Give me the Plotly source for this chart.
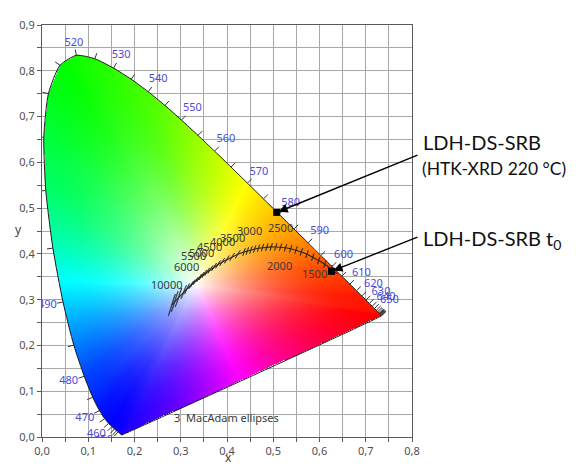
import numpy as np
import plotly.graph_objects as go
import zlib, struct, base64

# ---------------- data ----------------
# CIE 1931 spectral locus (2 deg), wavelength in nm
wl = [380, 385, 390, 395, 400, 405, 410, 415, 420, 425, 430, 435, 440, 445, 450, 455,
      460, 465, 470, 475, 480, 485, 490, 495, 500, 505, 510, 515, 520, 525, 530, 535,
      540, 545, 550, 555, 560, 565, 570, 575, 580, 585, 590, 595, 600, 605, 610, 615,
      620, 625, 630, 635, 640, 645, 650, 655, 660, 665, 670, 680, 690, 700]
loc_x = [0.1741, 0.1740, 0.1738, 0.1736, 0.1733, 0.1730, 0.1726, 0.1721, 0.1714, 0.1703,
         0.1689, 0.1669, 0.1644, 0.1611, 0.1566, 0.1510, 0.1440, 0.1355, 0.1241, 0.1096,
         0.0913, 0.0687, 0.0454, 0.0235, 0.0082, 0.0039, 0.0139, 0.0389, 0.0743, 0.1142,
         0.1547, 0.1929, 0.2296, 0.2658, 0.3016, 0.3373, 0.3731, 0.4087, 0.4441, 0.4788,
         0.5125, 0.5448, 0.5752, 0.6029, 0.6270, 0.6482, 0.6658, 0.6801, 0.6915, 0.7006,
         0.7079, 0.7140, 0.7190, 0.7230, 0.7260, 0.7283, 0.7300, 0.7311, 0.7320, 0.7334,
         0.7344, 0.7347]
loc_y = [0.0050, 0.0050, 0.0049, 0.0049, 0.0048, 0.0048, 0.0048, 0.0048, 0.0051, 0.0058,
         0.0069, 0.0086, 0.0109, 0.0138, 0.0177, 0.0227, 0.0297, 0.0399, 0.0578, 0.0868,
         0.1327, 0.2007, 0.2950, 0.4127, 0.5384, 0.6548, 0.7502, 0.8120, 0.8338, 0.8262,
         0.8059, 0.7816, 0.7543, 0.7243, 0.6923, 0.6589, 0.6245, 0.5896, 0.5547, 0.5202,
         0.4866, 0.4544, 0.4242, 0.3965, 0.3725, 0.3514, 0.3340, 0.3197, 0.3083, 0.2993,
         0.2920, 0.2859, 0.2809, 0.2770, 0.2740, 0.2717, 0.2700, 0.2689, 0.2680, 0.2666,
         0.2656, 0.2653]
tick_wl_min, tick_wl_max = 440, 700
label_wl = [440, 450, 460, 470, 480, 490, 500, 510, 520, 530, 540, 550, 560, 570, 580,
            590, 600, 610, 620, 630, 640, 650]

# Planckian locus (K, x, y)
planck_T = [1100, 1200, 1300, 1400, 1500, 1600, 1700, 1800, 1900, 2000, 2100, 2200, 2300,
            2400, 2500, 2600, 2700, 2800, 2900, 3000, 3200, 3400, 3500, 3600, 3800, 4000,
            4200, 4400, 4500, 4600, 4800, 5000, 5200, 5500, 5800, 6000, 6500, 7000, 7500,
            8000, 8500, 9000, 9500, 10000]
planck_x = [0.6386, 0.6249, 0.6115, 0.5984, 0.5856, 0.5731, 0.5610, 0.5493, 0.5378, 0.5266,
            0.5159, 0.5056, 0.4957, 0.4862, 0.4769, 0.4683, 0.4599, 0.4519, 0.4442, 0.4369,
            0.4234, 0.4112, 0.4053, 0.3998, 0.3897, 0.3805, 0.3721, 0.3644, 0.3608, 0.3574,
            0.3510, 0.3451, 0.3397, 0.3325, 0.3260, 0.3221, 0.3135, 0.3064, 0.3004, 0.2952,
            0.2908, 0.2869, 0.2836, 0.2807]
planck_y = [0.3564, 0.3676, 0.3773, 0.3857, 0.3932, 0.3993, 0.4043, 0.4082, 0.4112, 0.4133,
            0.4146, 0.4152, 0.4153, 0.4147, 0.4137, 0.4123, 0.4106, 0.4086, 0.4064, 0.4041,
            0.3990, 0.3935, 0.3907, 0.3879, 0.3823, 0.3768, 0.3714, 0.3661, 0.3636, 0.3611,
            0.3562, 0.3516, 0.3472, 0.3411, 0.3353, 0.3318, 0.3237, 0.3166, 0.3103, 0.3048,
            0.2999, 0.2956, 0.2918, 0.2883]
# 3-step MacAdam ellipses: centre temperature, semi-axes, tilt (deg)
ell_T = [1200, 1300, 1400, 1500, 1600, 1700, 1800, 1900, 2000, 2100, 2200, 2300, 2400,
         2500, 2600, 2700, 2800, 2900, 3000, 3200, 3400, 3600, 3800, 4000, 4200, 4400,
         4600, 4800, 5000, 5200, 5500, 5800, 6000, 6500, 7000, 8000, 9000, 10000]
ell_a = [0.0085] * 19 + [0.0100] * 14 + [0.013, 0.016, 0.022, 0.024, 0.025]
ell_b = [0.0006] * 19 + [0.0007] * 14 + [0.0008] * 5
ell_theta = [72] * 19 + [58] * 14 + [64, 68, 71, 72, 72]

cct_labels = [1500, 2000, 2500, 3000, 3500, 4000, 4500, 5000, 5500, 6000, 10000]
cct_shift_x = [2, -6, 18, 5, 3, 5, 1, 0, -2, -4, -5]
cct_shift_y = [-16, -18, 20, 22, 21, 23, 24, 24, 25, 19, 21]

# measured samples
sample_names = ["LDH-DS-SRB (HTK-XRD 220 °C)", "LDH-DS-SRB t0"]
sample_x = [0.5075, 0.626]
sample_y = [0.4906, 0.362]

x_ticks = [0.0, 0.1, 0.2, 0.3, 0.4, 0.5, 0.6, 0.7, 0.8]
y_ticks = [0.0, 0.1, 0.2, 0.3, 0.4, 0.5, 0.6, 0.7, 0.8, 0.9]
x_ticktext = ["0,0", "0,1", "0,2", "0,3", "0,4", "0,5", "0,6", "0,7", "0,8"]
y_ticktext = ["0,0", "0,1", "0,2", "0,3", "0,4", "0,5", "0,6", "0,7", "0,8", "0,9"]

# colour rendering of the diagram: hue anchors along the locus
hue_wl = [380, 450, 470, 480, 485, 490, 495, 500, 510, 520, 540, 550, 560, 570, 580, 590,
          600, 620, 700]
hue_deg = [246, 242, 236, 224, 210, 190, 165, 145, 126, 116, 102, 90, 76, 60, 45, 31,
           18, 6, 0]

# ---------------- colour background (chromaticity fill) ----------------
XR, YR = 0.8, 0.9
W, H = 370, 420
gx = (np.arange(W) + 0.5) / W * XR
gy = (np.arange(H) + 0.5) / H * YR
GX, GY = np.meshgrid(gx, gy)  # row 0 = lowest y
WX, WY = 1 / 3, 1 / 3

vx = np.array(loc_x); vy = np.array(loc_y)
inside = np.zeros(GX.shape, bool)
n = len(vx); j = n - 1
for i in range(n):
    xi, yi, xj, yj = vx[i], vy[i], vx[j], vy[j]
    cond = ((yi > GY) != (yj > GY)) & (GX < (xj - xi) * (GY - yi) / (yj - yi + 1e-12) + xi)
    inside ^= cond
    j = i

# polar coordinates around the white point
DX = GX - WX; DY = GY - WY
rad = np.hypot(DX, DY)
phi = np.degrees(np.arctan2(DY, DX))
cphi = np.cos(np.radians(phi)); sphi = np.sin(np.radians(phi))
rb = np.full(GX.shape, np.inf)
j = n - 1
for i in range(n):
    px_, py_ = vx[j], vy[j]
    ex_, ey_ = vx[i] - px_, vy[i] - py_
    den = cphi * ey_ - sphi * ex_
    wx_, wy_ = px_ - WX, py_ - WY
    with np.errstate(divide="ignore", invalid="ignore"):
        tt = (wx_ * ey_ - wy_ * ex_) / den
        uu = (wx_ * sphi - wy_ * cphi) / den
    ok = (uu >= -1e-9) & (uu <= 1 + 1e-9) & (tt > 0)
    rb = np.where(ok, np.minimum(rb, tt), rb)
    j = i
r = np.clip(rad / rb, 0, 1)

v_ang = np.degrees(np.arctan2(vy - WY, vx - WX))
a0 = v_ang[-1]
v_ang = (v_ang - a0) % 360
v_hue = np.interp(wl, hue_wl, hue_deg)
order = np.argsort(v_ang)
ang_tab = np.concatenate([[0.0], v_ang[order][1:], [360.0]])
hue_tab = np.concatenate([[0.0], v_hue[order][1:], [360.0]])
hue = np.interp((phi - a0) % 360, ang_tab, hue_tab) % 360
sat = 1 - (1 - r) ** 2
val = np.ones_like(sat)
h6 = hue / 60.0
hi = np.floor(h6).astype(int) % 6
f = h6 - np.floor(h6)
p = val * (1 - sat); q = val * (1 - f * sat); tq = val * (1 - (1 - f) * sat)
rr = np.choose(hi, [val, q, p, p, tq, val])
gg = np.choose(hi, [tq, val, val, q, p, p])
bb = np.choose(hi, [p, p, tq, val, val, q])
img = np.zeros((H, W, 4), np.uint8)
img[..., 0] = np.clip(rr * 255, 0, 255).astype(np.uint8)
img[..., 1] = np.clip(gg * 255, 0, 255).astype(np.uint8)
img[..., 2] = np.clip(bb * 255, 0, 255).astype(np.uint8)
img[..., 3] = np.where(inside, 255, 0).astype(np.uint8)


def to_png(arr):
    h, w, _ = arr.shape
    raw = b"".join(b"\x00" + arr[k].tobytes() for k in range(h))

    def chunk(t, d):
        c = struct.pack(">I", len(d)) + t + d
        return c + struct.pack(">I", zlib.crc32(t + d) & 0xffffffff)
    return (b"\x89PNG\r\n\x1a\n" + chunk(b"IHDR", struct.pack(">IIBBBBB", w, h, 8, 6, 0, 0, 0))
            + chunk(b"IDAT", zlib.compress(raw, 9)) + chunk(b"IEND", b""))


src = "data:image/png;base64," + base64.b64encode(to_png(img)).decode()

fig = go.Figure()
fig.add_trace(go.Image(source=src, x0=XR / W / 2, dx=XR / W, y0=YR / H / 2, dy=YR / H,
                       hoverinfo="skip"))

# ---------------- spectral locus outline ----------------
fig.add_trace(go.Scatter(x=loc_x + [loc_x[0]], y=loc_y + [loc_y[0]], mode="lines",
                         line=dict(color="#1a1a1a", width=1, shape="spline", smoothing=0.6),
                         hoverinfo="skip"))

# tick marks & wavelength labels (offset along outward normal in pixels)
SX, SY = 370 / XR, 420 / YR
pxl = np.array(loc_x) * SX; pyl = np.array(loc_y) * SY
tx_, ty_, lx, ly, lt = [], [], [], [], []
for k, w_ in enumerate(wl):
    if w_ < tick_wl_min or w_ > tick_wl_max:
        continue
    a_ = max(k - 1, 0); b_ = min(k + 1, len(wl) - 1)
    dxp = pxl[b_] - pxl[a_]; dyp = pyl[b_] - pyl[a_]
    L = np.hypot(dxp, dyp)
    nx, ny = -dyp / L, dxp / L
    tlen = 6
    tx_ += [loc_x[k], loc_x[k] + nx * tlen / SX, None]
    ty_ += [loc_y[k], loc_y[k] + ny * tlen / SY, None]
    if w_ in label_wl:
        D = 5 + abs(nx) * 10 + abs(ny) * 6
        lx.append(loc_x[k] + nx * D / SX); ly.append(loc_y[k] + ny * D / SY); lt.append(str(w_))
fig.add_trace(go.Scatter(x=tx_, y=ty_, mode="lines", line=dict(color="#333333", width=1),
                         hoverinfo="skip"))
fig.add_trace(go.Scatter(x=lx, y=ly, mode="text", text=lt, textposition="middle center",
                         textfont=dict(family="Noto Sans", size=11, color="#4b4bd8"),
                         hoverinfo="skip"))

# ---------------- Planckian locus & MacAdam ellipses ----------------
fig.add_trace(go.Scatter(x=planck_x, y=planck_y, mode="lines",
                         line=dict(color="#262626", width=1.1), hoverinfo="skip"))
ex, ey = [], []
t = np.linspace(0, 2 * np.pi, 25)
for T, a_, b_, thd in zip(ell_T, ell_a, ell_b, ell_theta):
    k = planck_T.index(T)
    th = np.radians(thd)
    cx, cy = planck_x[k], planck_y[k]
    ex += list(cx + a_ * np.cos(th) * np.cos(t) - b_ * np.sin(th) * np.sin(t)) + [None]
    ey += list(cy + a_ * np.sin(th) * np.cos(t) + b_ * np.cos(th) * np.sin(t)) + [None]
fig.add_trace(go.Scatter(x=ex, y=ey, mode="lines", line=dict(color="#262626", width=0.7),
                         hoverinfo="skip"))

annotations = []
for T, sx_, sy_ in zip(cct_labels, cct_shift_x, cct_shift_y):
    k = planck_T.index(T)
    annotations.append(dict(x=planck_x[k], y=planck_y[k], xref="x", yref="y", text=str(T),
                            showarrow=False, xshift=sx_, yshift=sy_,
                            font=dict(family="Noto Sans", size=11, color="#3a3a3a")))

# ---------------- samples ----------------
fig.add_trace(go.Scatter(x=sample_x, y=sample_y, mode="markers",
                         marker=dict(symbol="square", size=7, color="black"),
                         hoverinfo="skip"))
tails = [(0.815, 0.617), (0.815, 0.438)]
for (axv, ayv), sxv, syv in zip(tails, sample_x, sample_y):
    annotations.append(dict(x=sxv, y=syv, xref="x", yref="y", ax=axv, ay=ayv,
                            axref="x", ayref="y", showarrow=True, arrowhead=2,
                            arrowsize=1.3, arrowwidth=1.4, arrowcolor="black", text="",
                            standoff=2))

annotations += [
    dict(x=422, y=136, text="LDH-DS-SRB", font=dict(family="Lato", size=20, color="#111111")),
    dict(x=421, y=163, text="(HTK-XRD 220 °C)", font=dict(family="Lato", size=17.5, color="#111111")),
    dict(x=422, y=236, text="LDH-DS-SRB t<sub>0</sub>",
         font=dict(family="Lato", size=20, color="#111111")),
]
for a in annotations[-3:]:
    a["x"] = (a["x"] - 42) / 370
    a["y"] = (437 - a["y"]) / 420
    a.update(xref="paper", yref="paper", xanchor="left", yanchor="middle", showarrow=False,
             borderpad=0)

annotations += [
    dict(x=(226 - 42) / 370, y=(437 - 426.5) / 420, xref="paper", yref="paper",
         text="3  MacAdam ellipses", showarrow=False,
         font=dict(family="Noto Sans", size=11, color="#3a3a3a")),
    dict(x=(13 - 42) / 370, y=(437 - 225) / 420, xref="paper", yref="paper", text="y",
         showarrow=False, font=dict(family="Noto Sans", size=12, color="#404040")),
    dict(x=(228 - 42) / 370, y=(437 - 469) / 420, xref="paper", yref="paper", text="x",
         showarrow=False, font=dict(family="Noto Sans", size=12, color="#404040")),
]

axis_common = dict(showgrid=True, gridcolor="#a8a8a8", gridwidth=1, zeroline=False,
                   showline=True, linecolor="#5a5a5a", linewidth=1, mirror=True,
                   ticks="outside", ticklen=4, tickcolor="#5a5a5a",
                   tickfont=dict(family="Noto Sans", size=11, color="#505050"),
                   minor=dict(dtick=0.05, tick0=0, showgrid=True, gridcolor="#a8a8a8",
                              ticks="outside", ticklen=4, tickcolor="#5a5a5a"))
# page body has an 8px margin: shift figure so the plot area lands at (42..412, 17..437)
fig.update_layout(
    width=568, height=462, margin=dict(l=34, r=164, t=9, b=33),
    paper_bgcolor="white", plot_bgcolor="white", showlegend=False,
    xaxis=dict(range=[0, XR], tickvals=x_ticks, ticktext=x_ticktext, autorange=False,
               **axis_common),
    yaxis=dict(range=[0, YR], tickvals=y_ticks, ticktext=y_ticktext, autorange=False,
               scaleanchor=False, **axis_common),
    annotations=annotations,
)
fig.write_html("out.html")
